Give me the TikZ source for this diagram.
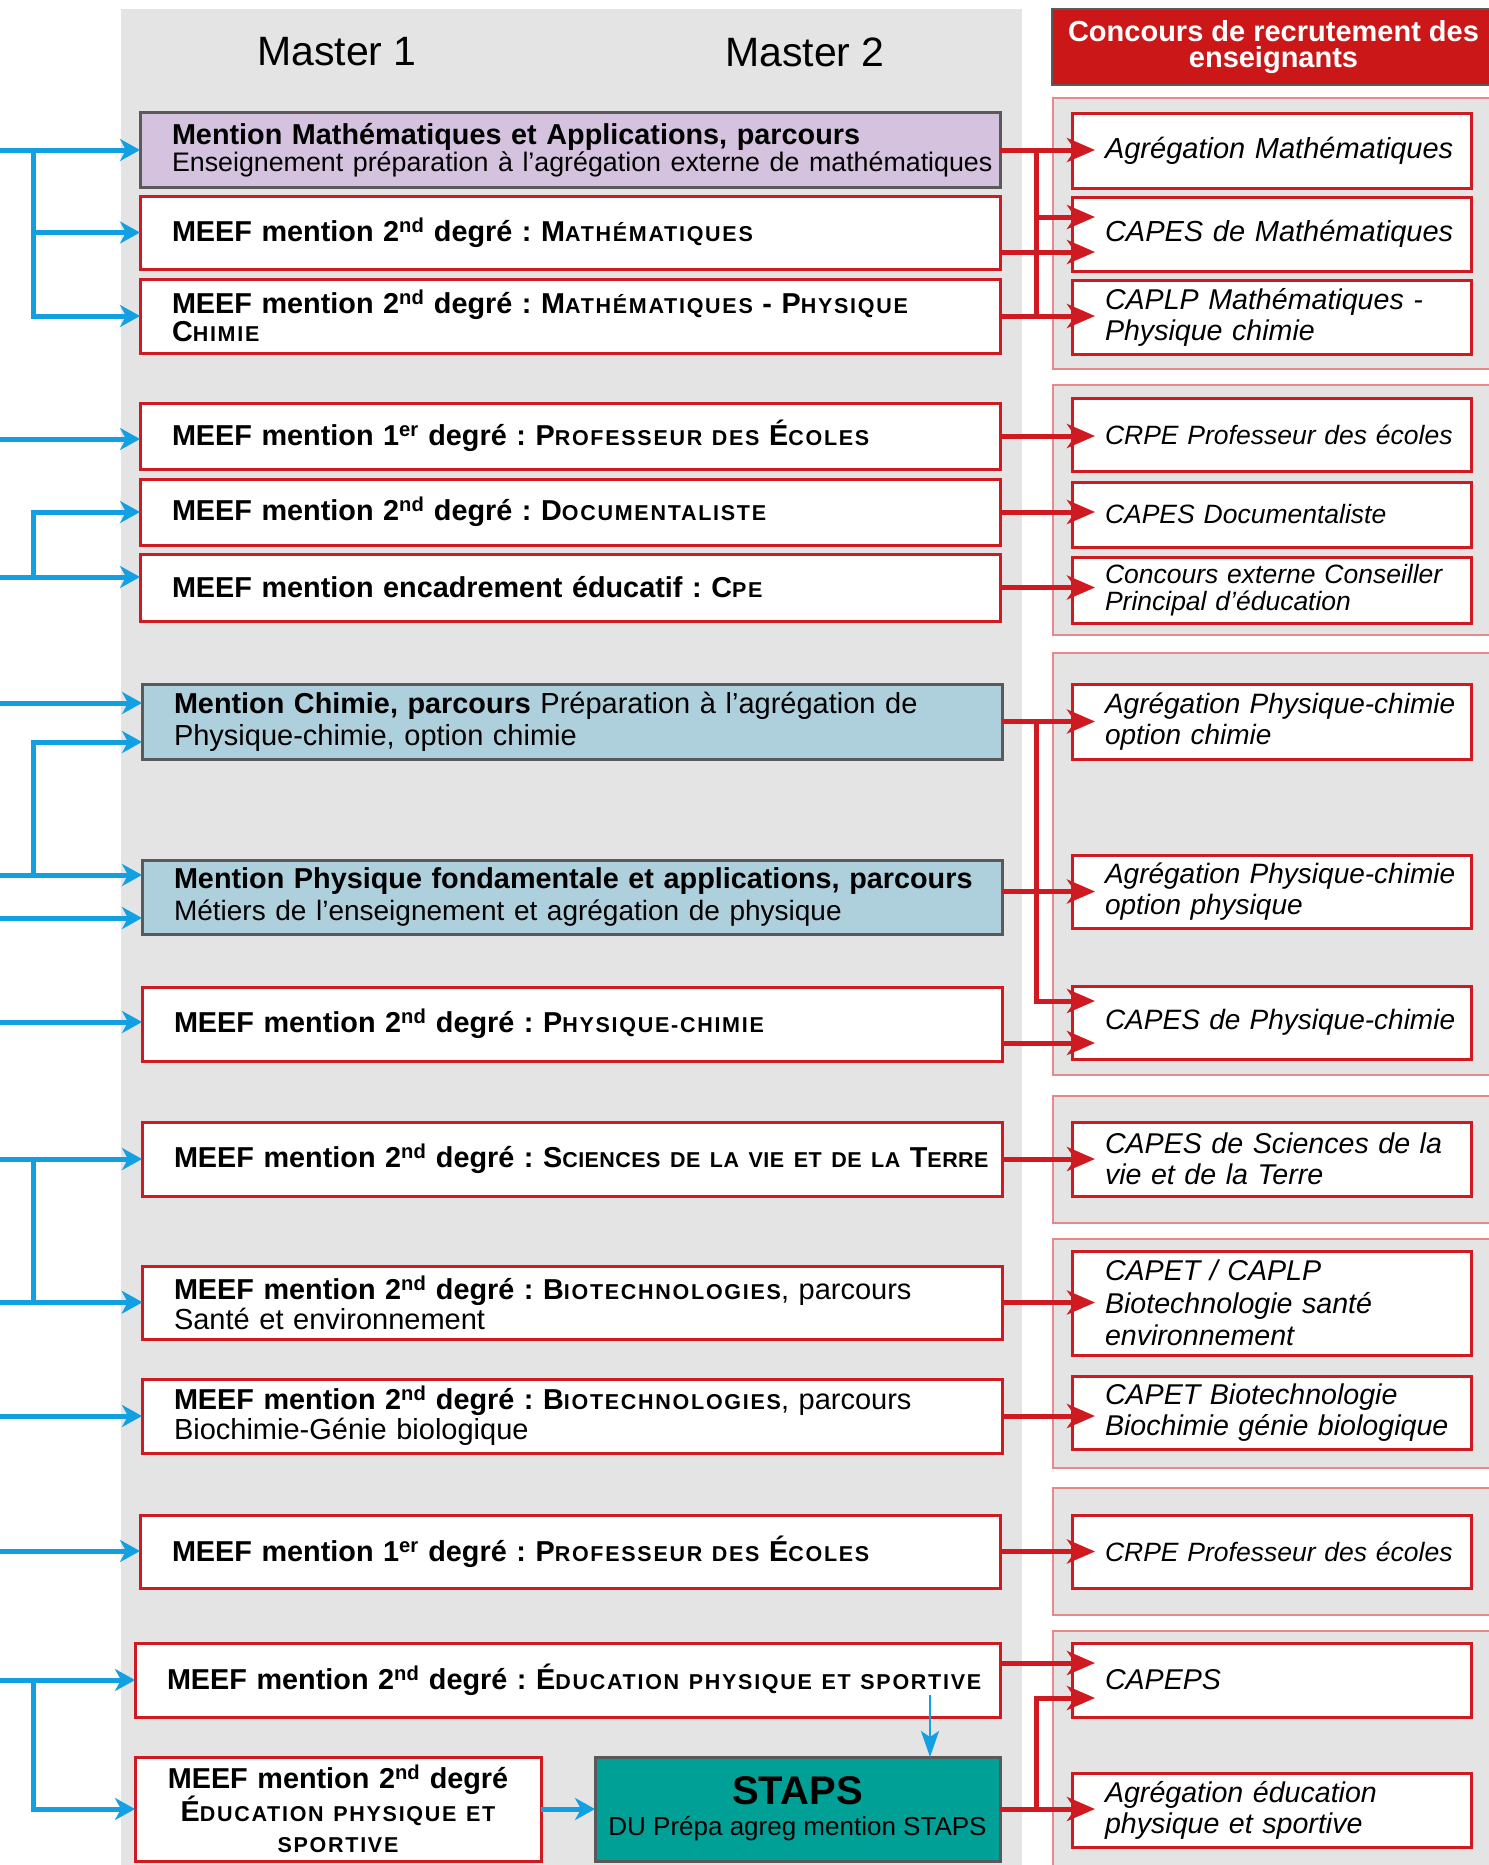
\documentclass[tikz,border=0pt]{standalone}
\usepackage{fontspec}
\setmainfont{Liberation Sans}
\usetikzlibrary{arrows.meta}
\definecolor{gris}{HTML}{E4E4E4}
\definecolor{rouge}{HTML}{CE1A20}
\definecolor{rougeclair}{HTML}{E58A8A}
\definecolor{rougefonce}{HTML}{CC1719}
\definecolor{bleu}{HTML}{12A0E2}
\definecolor{mauve}{HTML}{D5C2DE}
\definecolor{bleuclair}{HTML}{AECFDC}
\definecolor{vert}{HTML}{00A096}
\definecolor{bord}{HTML}{5A5A5A}
\frenchspacing
\hyphenpenalty=10000
\exhyphenpenalty=10000

\newcommand\ftbox{\fontsize{28.8}{30}\selectfont\bfseries}
\newcommand\ftcc{\fontsize{28.6}{31}\selectfont\itshape}
\newcommand\rg[2][29]{{\fontsize{#1}{30}\selectfont\mdseries #2}}
\newcommand\pc[2][8]{{\fontsize{21.5}{21.5}\selectfont\addfontfeature{LetterSpace=#1}#2}}
\newcommand\expo[1]{\textsuperscript{#1}}

\begin{document}
\begin{tikzpicture}[
                  x = 1pt,
                  y = -1pt,
  every node/.style = {inner sep=0pt, outer sep=0pt},
       cadre/.style = {draw=rouge, line width=3pt, fill=white},
     diplome/.style = {cadre, minimum width=860pt, text width=852pt, inner xsep=4pt,
                       align=left, font=\ftbox, execute at begin node={\leftskip=28pt}},
     mention/.style = {diplome, draw=bord},
    concours/.style = {cadre, minimum width=399pt, text width=383pt, inner xsep=8pt,
                       align=left, font=\ftcc, execute at begin node={\leftskip=25pt}},
      groupe/.style = {draw=rougeclair, line width=1.5pt, fill=gris},
    lienbleu/.style = {draw=bleu, line width=5pt, -{Stealth[length=20pt,width=22pt,inset=6pt]}},
   traitrouge/.style = {draw=rouge, line width=5pt},
   lienrouge/.style = {traitrouge, -{Stealth[length=28pt,width=24pt,inset=8pt]}, shorten >=-23pt},
                   ]
\useasboundingbox (0,0) rectangle (1488,1865);

% fonds
\fill[gris] (121,9) rectangle (1022,1870);
\draw[groupe] (1053,98)   rectangle (1500,369);
\draw[groupe] (1053,385)  rectangle (1500,635);
\draw[groupe] (1053,653)  rectangle (1500,1075);
\draw[groupe] (1053,1096) rectangle (1500,1223);
\draw[groupe] (1053,1239) rectangle (1500,1468);
\draw[groupe] (1053,1488) rectangle (1500,1615);
\draw[groupe] (1053,1631) rectangle (1500,1880);

% en-tetes
\node[font=\fontsize{41}{41}\selectfont] (m1) at (337,52) {Master 1};
\node[font=\fontsize{41}{41}\selectfont] (m2) at (805,52) {Master 2};
\node[draw=bord, line width=2pt, fill=rougefonce, minimum width=443pt, minimum height=76pt,
      text=white, align=center, font=\fontsize{29}{26}\selectfont\bfseries] (titre) at (1273.5,47)
      {Concours de recrutement des\\enseignants};

% masters
\node[mention, fill=mauve, minimum height=74pt, font=\fontsize{28.8}{23}\selectfont\bfseries] (mathapp) at (570,150)
      {Mention Mathématiques et Applications, parcours\\\rg[26.8]{Enseignement préparation à l’agrégation externe de mathématiques}};
\node[diplome, minimum height=73pt] (meefmath) at (570,232.5)
      {MEEF mention 2\expo{nd} degré : M\pc{ATHÉMATIQUES}};
\node[diplome, minimum height=74pt, font=\fontsize{28.8}{28}\selectfont\bfseries] (meefmpc) at (570,316)
      {MEEF mention 2\expo{nd} degré : M\pc{ATHÉMATIQUES} - P\pc{HYSIQUE}\\C\pc{HIMIE}};
\node[diplome, minimum height=66pt] (meefpe) at (570,436)
      {MEEF mention 1\expo{er} degré : P\pc{ROFESSEUR DES} É\pc{COLES}};
\node[diplome, minimum height=66pt] (meefdoc) at (570,512)
      {MEEF mention 2\expo{nd} degré : D\pc{OCUMENTALISTE}};
\node[diplome, minimum height=67pt] (meefcpe) at (570,587.5)
      {MEEF mention encadrement éducatif : C\pc{PE}};
\node[mention, fill=bleuclair, minimum height=75pt, font=\fontsize{28.8}{32}\selectfont\bfseries] (chimie) at (572,721.5)
      {Mention Chimie, parcours \rg{Préparation à l’agrégation de\\Physique-chimie, option chimie}};
\node[mention, fill=bleuclair, minimum height=74pt, font=\fontsize{28.8}{32}\selectfont\bfseries] (physique) at (572,897)
      {Mention Physique fondamentale et applications, parcours\\\rg[28]{Métiers de l’enseignement et agrégation de physique}};
\node[diplome, minimum height=74pt] (meefpc) at (572,1024)
      {MEEF mention 2\expo{nd} degré : P\pc{HYSIQUE-CHIMIE}};
\node[diplome, minimum height=74pt] (meefsvt) at (572,1159)
      {MEEF mention 2\expo{nd} degré : S\pc[2]{CIENCES DE LA VIE ET DE LA} T\pc[2]{ERRE}};
\node[diplome, minimum height=73pt] (biosante) at (572,1302.5)
      {MEEF mention 2\expo{nd} degré : B\pc{IOTECHNOLOGIES}\rg{, parcours\\Santé et environnement}};
\node[diplome, minimum height=74pt] (biochimie) at (572,1416)
      {MEEF mention 2\expo{nd} degré : B\pc{IOTECHNOLOGIES}\rg{, parcours\\Biochimie-Génie biologique}};
\node[diplome, minimum height=73pt] (meefpe2) at (570,1551.5)
      {MEEF mention 1\expo{er} degré : P\pc{ROFESSEUR DES} É\pc{COLES}};
\node[diplome, minimum width=865pt, text width=857pt, minimum height=74pt] (meefeps) at (567.5,1680)
      {MEEF mention 2\expo{nd} degré : É\pc{DUCATION PHYSIQUE ET SPORTIVE}};
\node[cadre, minimum width=406pt, text width=394pt, inner xsep=6pt, minimum height=104pt,
      align=center, font=\fontsize{28.8}{31.5}\selectfont\bfseries] (epsbis) at (338,1809)
      {MEEF mention 2\expo{nd} degré\\É\pc{DUCATION PHYSIQUE ET}\\\pc{SPORTIVE}};
\node[draw=bord, line width=3pt, fill=vert, minimum width=405pt, minimum height=104pt,
      align=center, font=\fontsize{26}{31}\selectfont] (staps) at (797.5,1809)
      {{\fontsize{40}{38}\selectfont\bfseries STAPS}\\DU Prépa agreg mention STAPS};

% concours
\node[concours, minimum height=74pt, font=\fontsize{29}{31}\selectfont\itshape] (agregmath) at (1271.5,151) {Agrégation Mathématiques};
\node[concours, minimum height=74pt, font=\fontsize{29}{31}\selectfont\itshape] (capesmath) at (1271.5,234) {CAPES de Mathématiques};
\node[concours, minimum height=74pt] (caplpmpc)  at (1271.5,317) {CAPLP Mathématiques -\\Physique chimie};
\node[concours, minimum height=73pt, font=\fontsize{26.5}{27}\selectfont\itshape] (crpe) at (1271.5,434.5) {CRPE Professeur des écoles};
\node[concours, minimum height=65pt, font=\fontsize{26.5}{27}\selectfont\itshape] (capesdoc) at (1271.5,514.5) {CAPES Documentaliste};
\node[concours, minimum height=66pt, font=\fontsize{26.5}{27}\selectfont\itshape] (cpe) at (1271.5,590) {Concours externe Conseiller\\Principal d’éducation};
\node[concours, minimum height=75pt, font=\fontsize{28}{31}\selectfont\itshape] (agregchim) at (1271.5,721.5) {Agrégation Physique-chimie\\option chimie};
\node[concours, minimum height=73pt, font=\fontsize{28}{31}\selectfont\itshape] (agregphys) at (1271.5,891.5) {Agrégation Physique-chimie\\option physique};
\node[concours, minimum height=73pt, font=\fontsize{28}{31}\selectfont\itshape] (capespc) at (1271.5,1022.5) {CAPES de Physique-chimie};
\node[concours, minimum height=74pt] (capessvt)  at (1271.5,1159) {CAPES de Sciences de la\\vie et de la Terre};
\node[concours, minimum height=104pt, font=\fontsize{28.6}{32.5}\selectfont\itshape] (capetsante) at (1271.5,1303) {CAPET / CAPLP\\Biotechnologie santé\\environnement};
\node[concours, minimum height=73pt] (capetbio)  at (1271.5,1412.5) {CAPET Biotechnologie\\Biochimie génie biologique};
\node[concours, minimum height=73pt, font=\fontsize{26.5}{27}\selectfont\itshape] (crpe2) at (1271.5,1551.5) {CRPE Professeur des écoles};
\node[concours, minimum height=74pt] (capeps)    at (1271.5,1680) {CAPEPS};
\node[concours, minimum height=74pt] (agregeps)  at (1271.5,1810) {Agrégation éducation\\physique et sportive};

% entrees a gauche
\foreach \nom/\y in {e1/150,e4/439,e6/577,e7/703,e8/875,e9/918,e10/1022,
                     e11/1159,e12/1302,e13/1416,e14/1551,e15/1680}
    \coordinate (\nom) at (0,\y);
\coordinate (busb) at (33,0);
\coordinate (busr) at (1036,0);
\coordinate (depart) at (930,1695);

% fleches bleues
\draw[lienbleu] (e1) -- (e1 -| mathapp.west);
\draw[lienbleu] (e1 -| busb) |- (meefmath.west);
\draw[lienbleu] (e1 -| busb) |- (meefmpc.west);
\draw[lienbleu] (e4) -- (e4 -| meefpe.west);
\draw[lienbleu] (e6) -- (e6 -| meefcpe.west);
\draw[lienbleu] (e6 -| busb) |- (meefdoc.west);
\draw[lienbleu] (e7) -- (e7 -| chimie.west);
\draw[lienbleu] (e8) -- (e8 -| physique.west);
\draw[lienbleu] (e8 -| busb) |- (chimie.west |- 0,742);
\draw[lienbleu] (e9) -- (e9 -| physique.west);
\draw[lienbleu] (e10) -- (e10 -| meefpc.west);
\draw[lienbleu] (e11) -- (e11 -| meefsvt.west);
\draw[lienbleu] (e12) -- (e12 -| biosante.west);
\draw[lienbleu] (e11 -| busb) |- (biosante.west);
\draw[lienbleu] (e13) -- (e13 -| biochimie.west);
\draw[lienbleu] (e14) -- (e14 -| meefpe2.west);
\draw[lienbleu] (e15) -- (e15 -| meefeps.west);
\draw[lienbleu] (e15 -| busb) |- (epsbis.west);
\draw[lienbleu] (epsbis.east) -- (epsbis.east -| staps.west);
\draw[draw=bleu, line width=2.5pt, -{Stealth[length=26pt,width=18pt,inset=6pt]}] (depart) -- (depart |- staps.north);

% fleches rouges
\draw[traitrouge] (mathapp.east -| busr) -- (meefmpc.east -| busr);
\draw[lienrouge] (mathapp.east) -- (mathapp.east -| agregmath.west);
\draw[lienrouge] (mathapp.east -| busr) |- (capesmath.west |- 0,217);
\draw[lienrouge] (meefmath.east |- 0,252) -- (capesmath.west |- 0,252);
\draw[lienrouge] (meefmpc.east) -- (meefmpc.east -| caplpmpc.west);
\draw[lienrouge] (meefpe.east) -- (meefpe.east -| crpe.west);
\draw[lienrouge] (meefdoc.east) -- (meefdoc.east -| capesdoc.west);
\draw[lienrouge] (meefcpe.east) -- (meefcpe.east -| cpe.west);
\draw[lienrouge] (chimie.east) -- (chimie.east -| agregchim.west);
\draw[lienrouge] (chimie.east -| busr) |- (capespc.west |- 0,1001);
\draw[lienrouge] (agregphys.west -| physique.east) -- (agregphys.west);
\draw[lienrouge] (meefpc.east |- 0,1043) -- (capespc.west |- 0,1043);
\draw[lienrouge] (meefsvt.east) -- (meefsvt.east -| capessvt.west);
\draw[lienrouge] (biosante.east) -- (biosante.east -| capetsante.west);
\draw[lienrouge] (biochimie.east) -- (biochimie.east -| capetbio.west);
\draw[lienrouge] (meefpe2.east) -- (meefpe2.east -| crpe2.west);
\draw[lienrouge] (meefeps.east |- 0,1663) -- (capeps.west |- 0,1663);
\draw[lienrouge] (staps.east) -- (staps.east -| agregeps.west);
\draw[lienrouge] (staps.east -| busr) |- (capeps.west |- 0,1698);
\end{tikzpicture}
\end{document}
